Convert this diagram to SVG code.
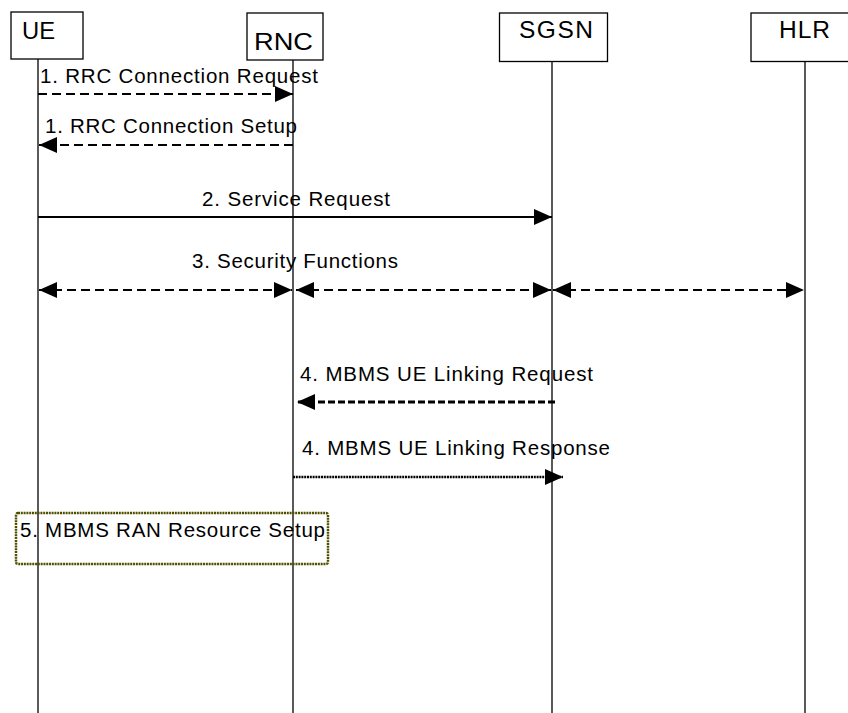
<svg xmlns="http://www.w3.org/2000/svg" width="848" height="713" viewBox="0 0 848 713">
<style>
.box{fill:#fff;stroke:#000;stroke-width:1.3}
.life{stroke:#000;stroke-width:1.3;fill:none}
.nlab{font-family:"Liberation Sans",Arial,sans-serif;font-size:23px;fill:#000}
.nlab2{font-family:"Liberation Sans",Arial,sans-serif;font-size:24.5px;fill:#000}
.mlab{font-family:"Liberation Sans",Arial,sans-serif;font-size:20.5px;fill:#000}
.dash{stroke:#000;stroke-width:1.8;stroke-dasharray:9 5;fill:none}
.solid{stroke:#000;stroke-width:1.8;fill:none}
.dot1{stroke:#000;stroke-width:3.2;stroke-dasharray:7 3;fill:none}
.dot2{stroke:#000;stroke-width:2.5;stroke-dasharray:2 0.8;fill:none}
</style>
<defs>
<marker id="ah" markerUnits="userSpaceOnUse" markerWidth="20" markerHeight="16" viewBox="0 0 18 16" refX="18" refY="8" orient="auto-start-reverse">
<path d="M0,0 L18,8 L0,16 Z" fill="#000"/>
</marker>
</defs>
<rect width="848" height="713" fill="#fff"/>
<g id="UE">
<rect class="box" x="11" y="12" width="72" height="47"/>
<text class="nlab" x="22" y="39" textLength="33" lengthAdjust="spacingAndGlyphs">UE</text>
<line class="life" x1="38" y1="59" x2="38" y2="713"/>
</g>
<g id="RNC">
<rect class="box" x="247" y="13" width="76" height="47"/>
<text class="nlab" x="254" y="50" textLength="59" lengthAdjust="spacingAndGlyphs">RNC</text>
<line class="life" x1="293" y1="60" x2="293" y2="713"/>
</g>
<g id="SGSN">
<rect class="box" x="499.5" y="13" width="108" height="48.5"/>
<text class="nlab2" x="519" y="38" textLength="74" lengthAdjust="spacing">SGSN</text>
<line class="life" x1="552" y1="61.5" x2="552" y2="713"/>
</g>
<g id="HLR">
<rect class="box" x="751" y="13" width="110" height="48.5"/>
<text class="nlab2" x="779" y="38" textLength="51" lengthAdjust="spacing">HLR</text>
<line class="life" x1="805" y1="61.5" x2="805" y2="713"/>
</g>
<g id="connectors">
<line class="dash" x1="38" y1="94" x2="293" y2="94" marker-end="url(#ah)"/>
<text class="mlab" x="40" y="83" textLength="278" lengthAdjust="spacing">1. RRC Connection Request</text>
<line class="dash" x1="293" y1="145" x2="39" y2="145" marker-end="url(#ah)"/>
<text class="mlab" x="45" y="133" textLength="252" lengthAdjust="spacing">1. RRC Connection Setup</text>
<line class="solid" x1="38" y1="217" x2="552" y2="217" marker-end="url(#ah)"/>
<text class="mlab" x="202" y="206" textLength="188" lengthAdjust="spacing">2. Service Request</text>
<text class="mlab" x="192" y="268" textLength="206" lengthAdjust="spacing">3. Security Functions</text>
<line class="dash" x1="39" y1="290" x2="292" y2="290" marker-start="url(#ah)" marker-end="url(#ah)"/>
<line class="dash" x1="296" y1="290" x2="551" y2="290" marker-start="url(#ah)" marker-end="url(#ah)"/>
<line class="dash" x1="553" y1="290" x2="804" y2="290" marker-start="url(#ah)" marker-end="url(#ah)"/>
<text class="mlab" x="300" y="381" textLength="293" lengthAdjust="spacing">4. MBMS UE Linking Request</text>
<line class="dot1" x1="555" y1="402" x2="297" y2="402" marker-end="url(#ah)"/>
<text class="mlab" x="302" y="455" textLength="308" lengthAdjust="spacing">4. MBMS UE Linking Response</text>
<line class="dot2" x1="293" y1="477" x2="563" y2="477" marker-end="url(#ah)"/>
</g>
<g id="step5">
<rect x="16" y="513" width="312" height="51" rx="2" fill="none" stroke="#4f4f00" stroke-width="2.5" stroke-dasharray="2 0.8"/>
<text class="mlab" x="20" y="537" textLength="305" lengthAdjust="spacing">5. MBMS RAN Resource Setup</text>
</g>
</svg>
